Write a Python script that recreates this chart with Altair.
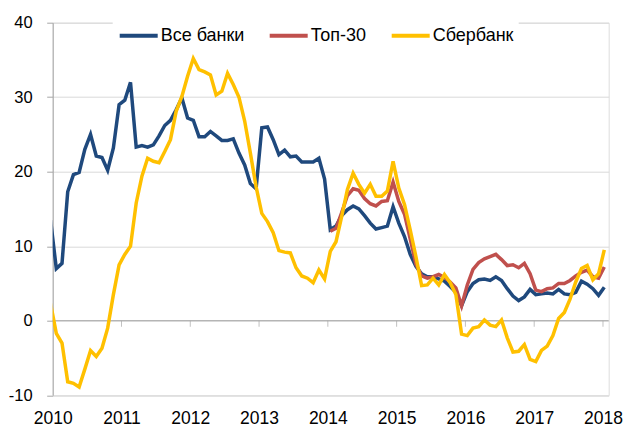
import altair as alt
import pandas as pd

series_names = ["Все банки", "Топ-30", "Сбербанк"]
series_colors = ["#1F497D", "#C0504D", "#FFC000"]

year_labels = [2010, 2011, 2012, 2013, 2014, 2015, 2016, 2017, 2018]
year_ticks = [0.37 + 12.05 * k for k in range(len(year_labels))]

vse_banki = [
    13.5, 7.0, 7.7, 17.3, 19.6, 19.9, 23.0, 25.0, 22.1, 21.9,
    20.2, 23.2, 29.0, 29.6, 32.0, 23.3, 23.5, 23.3, 23.6, 24.8,
    26.2, 26.9, 28.3, 29.9, 27.2, 26.9, 24.7, 24.7, 25.4, 24.8,
    24.2, 24.2, 24.4, 22.5, 20.9, 18.4, 17.7, 25.9, 26.0, 24.3,
    22.3, 22.9, 22.0, 22.1, 21.3, 21.3, 21.3, 21.8, 19.0, 12.2,
    12.7, 14.1, 14.9, 15.4, 15.0, 14.1, 13.1, 12.3, 12.5, 12.7,
    15.3, 13.1, 11.3, 8.9, 7.3, 6.3, 5.9, 5.9, 5.6, 5.3,
    4.6, 3.8, 2.0, 3.9, 5.0, 5.5, 5.6, 5.4, 5.9, 5.4,
    4.3, 3.3, 2.7, 3.2, 4.2, 3.5, 3.6, 3.7, 3.6, 4.2,
    3.6, 3.5, 3.8, 5.3, 4.9, 4.3, 3.4, 4.5,
]

top30 = [None] * 49 + [
    12.0, 12.4, 14.5, 16.8, 17.7, 17.5, 16.4, 15.7, 15.4, 16.0,
    16.1, 18.6, 16.0, 14.3, 11.0, 7.6, 6.0, 5.7, 5.9, 6.2,
    5.8, 5.2, 4.4, 2.0, 4.8, 6.9, 7.8, 8.3, 8.6, 8.9,
    8.2, 7.4, 7.5, 7.1, 7.7, 6.3, 4.1, 3.9, 4.3, 4.4,
    5.0, 5.0, 5.4, 6.0, 6.5, 6.8, 5.9, 5.7, 7.2,
]

sberbank = [
    2.3, -1.7, -3.0, -8.2, -8.4, -8.9, -6.5, -4.0, -4.8, -3.7,
    -1.0, 3.5, 7.5, 8.9, 10.0, 15.8, 19.4, 21.8, 21.4, 21.2,
    22.7, 24.3, 28.1, 30.1, 32.8, 35.2, 33.7, 33.4, 33.0, 30.3,
    30.8, 33.2, 31.7, 30.0, 26.8, 22.5, 18.0, 14.4, 13.3, 11.8,
    9.4, 9.2, 9.1, 7.1, 6.0, 5.7, 5.1, 6.8, 5.6, 9.3,
    10.6, 14.0, 17.6, 19.8, 18.3, 17.1, 18.3, 16.7, 16.7, 17.4,
    21.4, 17.8, 15.6, 12.2, 8.6, 4.7, 4.8, 5.7, 4.8, 6.2,
    5.1, 3.5, -1.8, -2.0, -1.0, -0.8, 0.1, -0.6, -0.8, 0.1,
    -2.3, -4.2, -4.1, -3.2, -5.2, -5.5, -4.0, -3.4, -2.0, 0.3,
    1.1, 2.9, 5.2, 7.0, 7.4, 5.5, 6.3, 9.5,
]

rows = []
for name, vals in zip(series_names, [vse_banki, top30, sberbank]):
    for i, v in enumerate(vals):
        if v is not None:
            rows.append({"t": i, "v": v, "series": name})
df = pd.DataFrame(rows)

FONT = "Liberation Sans"

x_enc = alt.X(
    "t:Q",
    scale=alt.Scale(domain=[0.37, 97.77], nice=False, zero=False),
    axis=alt.Axis(
        values=year_ticks,
        labelExpr="2010 + round((datum.value - 0.37) / 12.05)",
        grid=False, domain=False, ticks=False,
        labelFontSize=17.5, labelPadding=14, labelColor="black",
        labelFont=FONT, labelFlush=False, title=None,
    ),
)
y_enc = alt.Y(
    "v:Q",
    scale=alt.Scale(domain=[-10, 40], nice=False, zero=False),
    axis=alt.Axis(
        values=[-10, 0, 10, 20, 30, 40],
        labelExpr="'' + datum.value",
        grid=True, gridColor="#d9d9d9", gridWidth=1,
        domainColor="#a6a6a6", tickColor="#a6a6a6", tickSize=6,
        labelFontSize=16.5, labelPadding=14.5, labelColor="black",
        labelFont=FONT, title=None,
    ),
)

color_enc = alt.Color(
    "series:N",
    scale=alt.Scale(domain=series_names, range=series_colors),
    legend=alt.Legend(
        orient="none", legendX=60, legendY=-13, direction="horizontal",
        title=None, symbolType="stroke", symbolSize=1444, symbolStrokeWidth=4,
        labelFontSize=18, labelFont=FONT, labelColor="black", labelOffset=1,
        columnPadding=17, fillColor="white", padding=5,
    ),
)

layers = []
for name in series_names:
    layers.append(
        alt.Chart(df)
        .transform_filter(alt.datum.series == name)
        .mark_line(strokeWidth=3.5, clip=True)
        .encode(x=x_enc, y=y_enc, color=color_enc)
    )

zero_rule = (
    alt.Chart(pd.DataFrame({"v": [0]}))
    .mark_rule(color="#a6a6a6", strokeWidth=1)
    .encode(y=alt.Y("v:Q"))
)

tick_df = pd.DataFrame({"t": year_ticks[1:], "v": [0] * (len(year_ticks) - 1)})
zero_ticks = (
    alt.Chart(tick_df)
    .mark_tick(orient="vertical", color="#a6a6a6", size=6, thickness=1, yOffset=3)
    .encode(x=alt.X("t:Q"), y=alt.Y("v:Q"))
)

chart = (
    alt.layer(zero_rule, zero_ticks, *layers)
    .properties(
        width=556, height=372.5,
        autosize=alt.AutoSizeParams(type="none"),
        padding={"left": 44.7, "top": 14.7, "right": 15, "bottom": 32},
    )
    .configure_view(stroke=None)
    .configure(font=FONT)
)

chart.save("out.html", embed_options={"renderer": "svg", "actions": False})
